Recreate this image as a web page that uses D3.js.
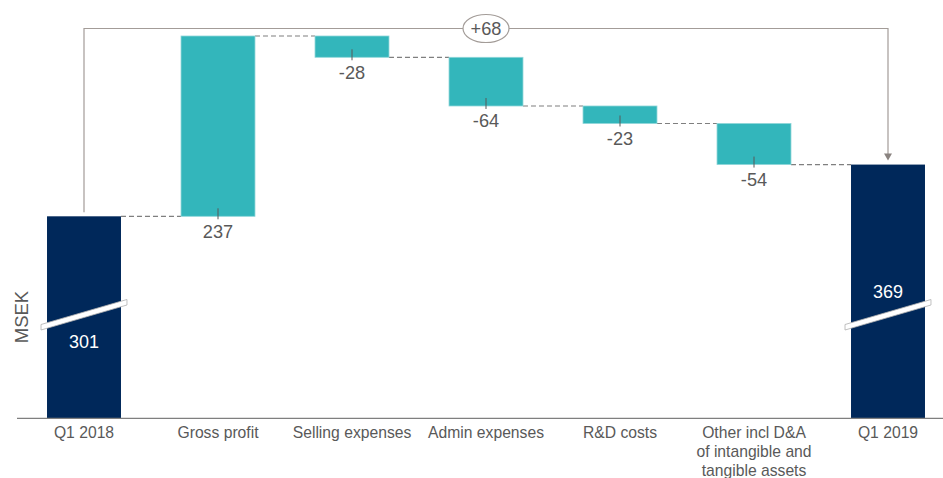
<!DOCTYPE html>
<html><head><meta charset="utf-8">
<script src="https://cdn.jsdelivr.net/npm/d3@7"></script>
<style>
html,body{margin:0;padding:0;background:#fff;}
text{font-family:"Liberation Sans",Arial,sans-serif;}
</style></head>
<body><svg id="chart" width="943" height="478"></svg>
<script>
const categories = ["Q1 2018","Gross profit","Selling expenses","Admin expenses","R&D costs","Other incl D&A\nof intangible and\ntangible assets","Q1 2019"];
const kinds = ["total","delta","delta","delta","delta","delta","total"];
const values = [301, 237, -28, -64, -23, -54, 369];
const changeLabel = "+68";
const axisTitle = "MSEK";
const axisBreakValue = 35.5; // value at the (broken) baseline

const W = 943, H = 478;
const svg = d3.select("#chart");
const navy = "#00285a", teal = "#33b6bb", txt = "#595959", grey = "#7f7f7f", bracket = "#a39c98";

const x = d3.scaleBand().domain(categories).range([17, 955]).paddingInner(0.448).paddingOuter(0.224);
const y = d3.scaleLinear().domain([axisBreakValue, 538]).range([418.3, 36]);

// compute waterfall segments
let run = 0;
const segs = categories.map((c, i) => {
  let y0, y1;
  if (kinds[i] === "total") { y0 = axisBreakValue; y1 = values[i]; run = values[i]; }
  else { y0 = run; y1 = run + values[i]; run = y1; }
  return {c, i, kind: kinds[i], v: values[i], y0, y1, end: run};
});

// connectors
const g = svg.append("g");
segs.slice(0, -1).forEach((s, i) => {
  const n = segs[i + 1];
  g.append("line")
    .attr("x1", x(s.c) + x.bandwidth()).attr("x2", x(n.c))
    .attr("y1", y(s.end)).attr("y2", y(s.end))
    .attr("stroke", grey).attr("stroke-width", 1.2).attr("stroke-dasharray", "5,3");
});

// bars
g.selectAll("rect.bar").data(segs).join("rect")
  .attr("class", "bar")
  .attr("x", d => x(d.c))
  .attr("width", x.bandwidth())
  .attr("y", d => y(Math.max(d.y0, d.y1)))
  .attr("height", d => Math.abs(y(d.y0) - y(d.y1)))
  .attr("fill", d => d.kind === "total" ? navy : teal)
  .attr("stroke", d => d.kind === "total" ? "none" : "#8fd6d9")
  .attr("stroke-width", 0.8);

// axis
const ax = svg.append("g").attr("transform", `translate(0,${y(axisBreakValue)})`)
  .call(d3.axisBottom(x).tickSize(0).tickFormat(""));
ax.select(".domain").attr("stroke", grey).attr("stroke-width", 1.3).attr("d", `M17,0H943`);
ax.selectAll(".tick").each(function(d) {
  const t = d3.select(this).append("text").attr("fill", txt).attr("font-size", 15.7)
    .attr("text-anchor", "middle").attr("y", 20);
  d.split("\n").forEach((line, k) => {
    t.append("tspan").attr("x", 0).attr("dy", k === 0 ? 0 : 19).text(line);
  });
});

// delta labels
segs.filter(d => d.kind === "delta").forEach(d => {
  const cx = x(d.c) + x.bandwidth() / 2;
  const bot = y(Math.min(d.y0, d.y1));
  g.append("line").attr("x1", cx).attr("x2", cx).attr("y1", bot - 8).attr("y2", bot + 3)
    .attr("stroke", "#595959").attr("stroke-width", 1);
  g.append("text").attr("x", cx).attr("y", bot + 21.5).attr("text-anchor", "middle")
    .attr("fill", txt).attr("font-size", 18.2).text(d.v > 0 ? d.v : "-" + Math.abs(d.v));
});

// axis break marks on totals
segs.filter(d => d.kind === "total").forEach(d => {
  const x0 = x(d.c) - 6, x1 = x(d.c) + x.bandwidth() + 6;
  const yl = 330, yr = 305, th = 5.5;
  g.append("path")
    .attr("d", `M${x0},${yl}L${x1},${yr}L${x1},${yr - th}L${x0},${yl - th}Z`)
    .attr("fill", "#fff").attr("stroke", "#b0b0b0").attr("stroke-width", 0.8);
});

// total labels
segs.filter(d => d.kind === "total").forEach(d => {
  const cx = x(d.c) + x.bandwidth() / 2;
  const ty = d.i === 0 ? 348 : 298;
  g.append("text").attr("x", cx).attr("y", ty).attr("text-anchor", "middle")
    .attr("fill", "#fff").attr("font-size", 18).text(d.v);
});

// bracket from first total to last total
const first = segs[0], last = segs[segs.length - 1];
const bx0 = x(first.c) + x.bandwidth() / 2, bx1 = x(last.c) + x.bandwidth() / 2;
const by = 28.5;
svg.append("path")
  .attr("d", `M${bx0},${y(first.end) - 4}V${by}H${bx1}V${y(last.end) - 10}`)
  .attr("fill", "none").attr("stroke", bracket).attr("stroke-width", 1.2);
svg.append("path")
  .attr("d", `M${bx1 - 4},${y(last.end) - 11}L${bx1 + 4},${y(last.end) - 11}L${bx1},${y(last.end) - 4}Z`)
  .attr("fill", "#8a8380");
const mx = (x(categories[3]) + x.bandwidth() / 2);
svg.append("ellipse").attr("cx", mx).attr("cy", by).attr("rx", 23).attr("ry", 14)
  .attr("fill", "#fff").attr("stroke", bracket).attr("stroke-width", 1.2);
svg.append("text").attr("x", mx).attr("y", by + 6.5).attr("text-anchor", "middle")
  .attr("fill", txt).attr("font-size", 18.2).text(changeLabel);

// y axis title
svg.append("text").attr("transform", `translate(28,317) rotate(-90)`)
  .attr("text-anchor", "middle").attr("fill", txt).attr("font-size", 18.5).text(axisTitle);
</script></body></html>
